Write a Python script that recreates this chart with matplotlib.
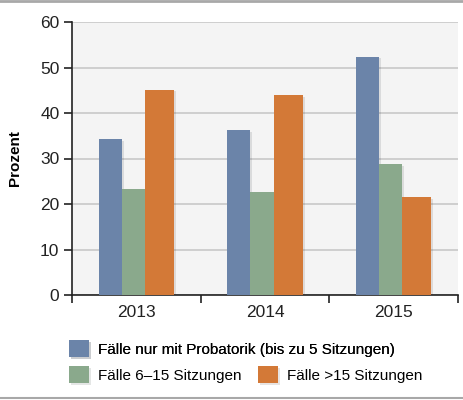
import numpy as np
import matplotlib.pyplot as plt
import matplotlib.patheffects as pe
from matplotlib.lines import Line2D
plt.rcParams['font.family'] = ['Liberation Sans', 'DejaVu Sans']

years = ['2013', '2014', '2015']
probatorik = [34.2, 36.2, 52.4]
mittel = [23.2, 22.6, 28.7]
lang = [45.1, 43.9, 21.5]
labels = ['Fälle nur mit Probatorik (bis zu 5 Sitzungen)',
          'Fälle 6–15 Sitzungen',
          'Fälle >15 Sitzungen']

c_blue = '#6b84a9'
c_green = '#8aa98c'
c_orange = '#d37937'

fig = plt.figure(figsize=(4.64, 4.0), dpi=100)
ax = fig.add_axes([0.155, 0.2625, 0.832, 0.6825])
ax.set_facecolor('#f4f4f4')

x = np.arange(len(years))
w_small = 0.18
w_big = 0.226
left = x - (2 * w_small + w_big) / 2
shadow = [pe.SimplePatchShadow(offset=(1.5, -1), alpha=0.12), pe.Normal()]

b1 = ax.bar(left, probatorik, w_small, align='edge', color=c_blue, zorder=3)
b2 = ax.bar(left + w_small, mittel, w_small, align='edge', color=c_green, zorder=3)
b3 = ax.bar(left + 2 * w_small, lang, w_big, align='edge', color=c_orange, zorder=3)
for bars in (b1, b2, b3):
    for b in bars:
        b.set_path_effects(shadow)

ax.set_xlim(-0.5, 2.5)
ax.set_ylim(0, 60)
ax.set_yticks(range(0, 61, 10))
ax.yaxis.grid(True, color='#c8c8c8', linewidth=1.2, zorder=0)
ax.set_axisbelow(True)

ax.set_xticks([-0.5, 0.5, 1.5, 2.5])
ax.set_xticklabels([])
ax.set_xticks(x, minor=True)
ax.set_xticklabels(years, minor=True, fontsize=12.5, color='#222222')
ax.tick_params(axis='x', which='minor', length=0, pad=7)
ax.tick_params(axis='x', which='major', length=6, width=1.2, color='#222222')
ax.tick_params(axis='y', length=6, width=1.2, color='#222222', labelsize=12.5,
               labelcolor='#222222', pad=3)

for s in ('top', 'right'):
    ax.spines[s].set_visible(False)
for s in ('left', 'bottom'):
    ax.spines[s].set_color('#222222')
    ax.spines[s].set_linewidth(1.2)

ax.set_ylabel('Prozent', fontsize=11, fontweight='bold', labelpad=13)

leg1 = fig.legend([b1], [labels[0]], loc='center left', bbox_to_anchor=(0.135, 0.128),
                  frameon=False, fontsize=11, handlelength=1.3, handleheight=1.3,
                  handletextpad=0.6, borderaxespad=0)
leg2 = fig.legend([b2, b3], labels[1:], loc='center left', bbox_to_anchor=(0.135, 0.063),
                  ncol=2, frameon=False, fontsize=11, handlelength=1.3, handleheight=1.3,
                  handletextpad=0.6, columnspacing=1.1, borderaxespad=0)
fig.add_artist(leg1)

fig.add_artist(Line2D([0, 1], [0.998, 0.998], color='#a8a8a8', linewidth=2))
fig.add_artist(Line2D([0, 1], [0.006, 0.006], color='#a8a8a8', linewidth=1.5))

fig.savefig('out.png', dpi=100)
